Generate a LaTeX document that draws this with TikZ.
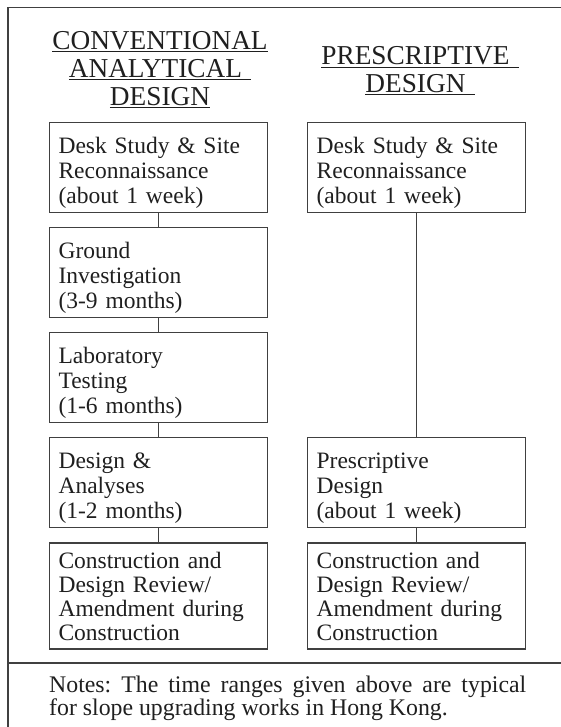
\documentclass[tikz,border=0pt]{standalone}
\usepackage{fontspec}
\setmainfont{Liberation Serif}
\usepackage{xcolor}
\usetikzlibrary{positioning}
\frenchspacing

\begin{document}
\begin{tikzpicture}[x=1pt, y=-1pt, node distance=14pt and 39pt]

% Styles
\tikzset{
  stage/.style={
    rectangle, draw=black!75, line width=1.1pt,
    text width=200pt, inner xsep=9pt, inner ysep=0pt, align=left,
    text height=31pt, text depth=59pt, text=black!88,
    font=\fontsize{23.5}{25}\selectfont
  },
  stagetall/.style={
    stage, text height=26pt, text depth=80pt,
    font=\fontsize{23.5}{24}\selectfont
  },
  heading/.style={
    text width=240pt, align=center, inner sep=0pt, anchor=base,
    text=black!88, font=\fontsize{27.3}{28}\selectfont
  },
  notebox/.style={
    text width=477pt, align=justify, inner sep=0pt, anchor=base west,
    text=black!88, font=\fontsize{23.8}{23}\selectfont
  },
  link/.style={draw=black!75, line width=1.1pt}
}

\useasboundingbox (0,0) rectangle (561,727);

% Frame
\draw[link] (561,7.5) -- (8,7.5) -- (8,727);
\draw[link] (8,663) -- (561,663);

% Headings
\node (titleA) [heading] at (160,49.5) {\underline{CONVENTIONAL}\\\underline{ANALYTICAL\ }\\\underline{DESIGN}};
\node (titleB) [heading] at (420,65) {\underline{PRESCRIPTIVE\ }\\\underline{DESIGN\ }};

% Conventional analytical design
\node (deskA) [stage, anchor=north west] at (49,122) {Desk Study \& Site\\Reconnaissance\\(about 1 week)};
\node (groundA) [stage, below=of deskA] {Ground\\Investigation\\(3-9 months)};
\node (labA) [stage, below=of groundA] {Laboratory\\Testing\\(1-6 months)};
\node (designA) [stage, below=of labA] {Design \&\\Analyses\\(1-2 months)};
\node (buildA) [stagetall, below=of designA] {Construction and\\Design Review/\\Amendment during\\Construction};

% Prescriptive design
\node (deskB) [stage, right=of deskA] {Desk Study \& Site\\Reconnaissance\\(about 1 week)};
\node (designB) [stage, right=of designA] {Prescriptive\\Design\\(about 1 week)};
\node (buildB) [stagetall, below=of designB] {Construction and\\Design Review/\\Amendment during\\Construction};

% Links
\draw[link] (deskA) -- (groundA);
\draw[link] (groundA) -- (labA);
\draw[link] (labA) -- (designA);
\draw[link] (designA) -- (buildA);
\draw[link] (deskB) -- (designB);
\draw[link] (designB) -- (buildB);

% Notes
\node (notes) [notebox] at (49,692) {Notes: The time ranges given above are typical\linebreak for slope upgrading works in Hong Kong.};

\end{tikzpicture}
\end{document}
